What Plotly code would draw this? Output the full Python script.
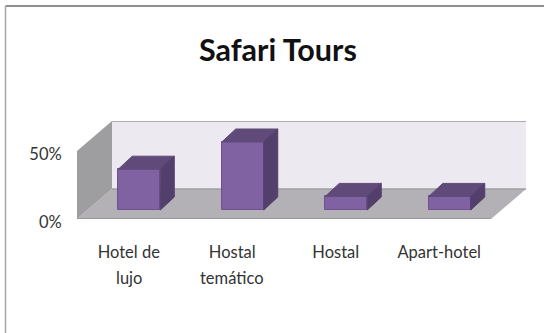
import plotly.graph_objects as go

categories = ["Hotel de", "Hostal", "Hostal", "Apart-hotel"]
second_lines = ["lujo", "temático", "", ""]
values = [30, 50, 10, 10]
tick_vals = [0, 50]
tick_text = ["0%", "50%"]
title = "Safari Tours"

W, H = 544, 333
L, R, T, B = 77, 526, 121, 219
PX_X = 103.5
PX_Y = 1.36
xs = list(range(len(values)))
x0 = -0.5
x1 = x0 + (R - L) / PX_X
y1 = (B - T) / PX_Y

dx = lambda p: p / PX_X
dy = lambda p: p / PX_Y

back_x, back_y = dx(35), dy(30)
bar_x, bar_y = dx(10.5), dy(9)
depth_x, depth_y = dx(14), dy(13)
half = 21 / PX_X
front_right = x0 + 4


def poly(pts):
    return "M" + " L".join(f"{a},{b}" for a, b in pts) + " Z"


def shape(pts, fill):
    return dict(type="path", xref="x", yref="y", layer="below", path=poly(pts),
                fillcolor=fill, line=dict(width=0))


top_wall = y1
shapes = [
    shape([(x0 + back_x, back_y), (front_right + back_x, back_y),
           (front_right + back_x, top_wall), (x0 + back_x, top_wall)], "#ECEAF0"),
    shape([(x0, 0), (x0 + back_x, back_y), (x0 + back_x, top_wall), (x0, 50)], "#9E9DA0"),
    shape([(x0, 0), (front_right, 0), (front_right + back_x, back_y), (x0 + back_x, back_y)], "#B3B1B5"),
    dict(type="line", xref="x", yref="y", layer="below", x0=x0 + back_x, x1=front_right + back_x,
         y0=top_wall, y1=top_wall, line=dict(color="#9A9A9A", width=1.5)),
    dict(type="line", xref="x", yref="y", layer="below", x0=x0 + back_x, x1=front_right + back_x,
         y0=back_y, y1=back_y, line=dict(color="#A0A0A0", width=1.5)),
    dict(type="line", xref="x", yref="y", layer="below", x0=x0, x1=front_right,
         y0=0, y1=0, line=dict(color="#979797", width=2)),
    dict(type="line", xref="paper", yref="paper", x0=(5.5 - L) / (R - L), x1=(W - L) / (R - L),
         y0=(B - 6) / (B - T), y1=(B - 6) / (B - T), line=dict(color="#8E8E8E", width=2)),
    dict(type="line", xref="paper", yref="paper", x0=(5.5 - L) / (R - L), x1=(5.5 - L) / (R - L),
         y0=(B - 6) / (B - T), y1=(B - H) / (B - T), line=dict(color="#A8A8A8", width=1.5)),
]

fig = go.Figure()
fig.add_trace(go.Bar(x=[i + bar_x for i in xs], y=values, base=[bar_y] * len(values),
                     width=2 * half, marker=dict(color="#8061A2", line=dict(color="#6E5290", width=1)),
                     showlegend=False, hoverinfo="skip"))

for i, v in zip(xs, values):
    xl, xr = i + bar_x - half, i + bar_x + half
    yb, yt = bar_y, bar_y + v
    fig.add_trace(go.Scatter(
        x=[xl, xr, xr + depth_x, xl + depth_x, xl], y=[yt, yt, yt + depth_y, yt + depth_y, yt],
        fill="toself", fillcolor="#5F4A79", mode="lines", line=dict(color="#5F4A79", width=1),
        showlegend=False, hoverinfo="skip"))
    fig.add_trace(go.Scatter(
        x=[xr, xr + depth_x, xr + depth_x, xr, xr], y=[yb, yb + depth_y, yt + depth_y, yt, yb],
        fill="toself", fillcolor="#523F6C", mode="lines", line=dict(color="#523F6C", width=1),
        showlegend=False, hoverinfo="skip"))

annotations = [
    dict(x=i, y=0, xref="x", yref="y", text=t, showarrow=False, yanchor="middle", yshift=-59,
         font=dict(family="Lato", size=16.5, color="#333333"))
    for i, t in zip(xs, second_lines) if t
]
annotations.append(dict(x=(278 - L) / (R - L), y=(B - 49) / (B - T), xref="paper", yref="paper",
                        text=title, showarrow=False, xanchor="center", yanchor="middle",
                        font=dict(family="Lato", size=30.5, color="#111111", weight="bold")))

fig.update_layout(
    width=W, height=H, autosize=False,
    margin=dict(l=L, r=W - R, t=T, b=H - B, pad=0),
    paper_bgcolor="white", plot_bgcolor="rgba(0,0,0,0)",
    bargap=0, shapes=shapes, annotations=annotations,
    xaxis=dict(range=[x0, x1], tickmode="array", tickvals=xs, ticktext=categories,
               showgrid=False, zeroline=False, showline=False, ticks="outside", ticklen=18,
               tickcolor="rgba(0,0,0,0)", tickangle=0,
               tickfont=dict(family="Lato", size=16.5, color="#333333")),
    yaxis=dict(range=[0, y1], tickmode="array", tickvals=tick_vals, ticktext=tick_text,
               showgrid=False, zeroline=False, showline=False, ticks="outside", ticklen=11,
               tickcolor="rgba(0,0,0,0)", ticklabelshift=3,
               tickfont=dict(family="Lato", size=16.5, color="#333333")),
)
fig.write_html("out.html", config={"displayModeBar": False}, post_script="document.body.style.margin='0';")
